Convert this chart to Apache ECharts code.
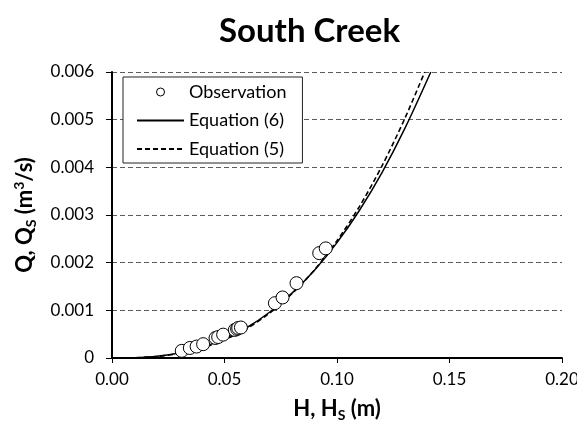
<!DOCTYPE html>
<html>
<head>
<meta charset="utf-8">
<script src="https://cdn.jsdelivr.net/npm/echarts@6/dist/echarts.min.js"></script>
<style>
    html, body { margin: 0; padding: 0; background: #fff; }
    #canvas { width: 577px; height: 426px; }
</style>
</head>
<body>
<div id="canvas"></div>
<script>
// observed stage / discharge
var obsH = [0.031, 0.0346, 0.0376, 0.0405, 0.046, 0.0472, 0.0494, 0.0546, 0.0556, 0.0561, 0.0573, 0.0724, 0.0758, 0.082, 0.0921, 0.095];
var obsQ = [0.00015, 0.00021, 0.00024, 0.00029, 0.00042, 0.00044, 0.00049, 0.00059, 0.00061, 0.00063, 0.00064, 0.00115, 0.00127, 0.00157, 0.0022, 0.0023];

// Equation (6), solid
var eq6H = [0, 0.01, 0.02, 0.03, 0.04, 0.05, 0.06, 0.07, 0.08, 0.09, 0.10, 0.11, 0.12, 0.13, 0.1417];
var eq6Q = [0, 0.000006, 0.000037, 0.000106, 0.000224, 0.0004, 0.00064, 0.00096, 0.00136, 0.00184, 0.00242, 0.0031, 0.00389, 0.0048, 0.006];

// Equation (5), dashed
var eq5H = [0, 0.01, 0.02, 0.03, 0.04, 0.05, 0.06, 0.07, 0.08, 0.09, 0.10, 0.11, 0.12, 0.13, 0.139];
var eq5Q = [0, 0.000005, 0.000032, 0.000095, 0.000207, 0.00038, 0.00062, 0.00094, 0.00135, 0.00185, 0.00246, 0.00318, 0.00403, 0.00501, 0.006];

var legendNames = ['Observation', 'Equation (6)', 'Equation (5)'];

function pairs(xs, ys) {
    var out = [];
    for (var i = 0; i < xs.length; i++) {
        out.push([xs[i], ys[i]]);
    }
    return out;
}

var myChart = echarts.init(document.getElementById('canvas'));

// sub / superscripts in the axis titles
var subRich = {
    sub: { fontSize: 14, lineHeight: 12, verticalAlign: 'bottom', fontWeight: 'bold' },
    sup: { fontSize: 14, lineHeight: 12, verticalAlign: 'top', fontWeight: 'bold' }
};

var option = {
    animation: false,
    backgroundColor: '#fff',
    textStyle: { fontFamily: 'Lato', color: '#000' },
    title: {
        text: 'South Creek',
        left: 214,
        top: 10,
        textStyle: { fontFamily: 'Lato', fontSize: 33, fontWeight: 'bold', color: '#000' }
    },
    legend: {
        orient: 'vertical',
        left: 123,
        top: 77,
        data: [
            { name: legendNames[0], itemStyle: { color: '#fff', borderColor: '#000', borderWidth: 1 } },
            { name: legendNames[1], itemStyle: { opacity: 0 } },
            { name: legendNames[2], itemStyle: { opacity: 0 } }
        ],
        padding: [6, 16, 5, 13],
        itemWidth: 47,
        itemHeight: 8,
        itemGap: 10.5,
        borderColor: '#222',
        borderWidth: 1,
        borderRadius: 0,
        backgroundColor: '#fff',
        textStyle: { fontFamily: 'Lato', fontSize: 18, lineHeight: 18, color: '#000' }
    },
    grid: {
        left: 112,
        right: 15,
        top: 72,
        bottom: 68,
        containLabel: false,
        outerBoundsMode: 'none'
    },
    xAxis: {
        type: 'value',
        min: 0,
        max: 0.2,
        interval: 0.05,
        name: 'H, H{sub|S} (m)',
        nameLocation: 'middle',
        nameGap: 38,
        nameTextStyle: { fontFamily: 'Lato', fontSize: 22, fontWeight: 'bold', lineHeight: 26, color: '#000', rich: subRich },
        axisLine: { lineStyle: { color: '#000', width: 2 } },
        axisTick: { show: true, inside: false, length: 5, lineStyle: { color: '#000', width: 1 } },
        axisLabel: {
            fontFamily: 'Lato', fontSize: 17, color: '#000', margin: 13,
            formatter: function (v) { return v.toFixed(2); }
        },
        splitLine: { show: false }
    },
    yAxis: {
        type: 'value',
        min: 0,
        max: 0.006,
        interval: 0.001,
        name: 'Q, Q{sub|S} (m{sup|3}/s)',
        nameLocation: 'middle',
        nameRotate: 90,
        nameGap: 74,
        nameTextStyle: { fontFamily: 'Lato', fontSize: 22, fontWeight: 'bold', lineHeight: 26, color: '#000', rich: subRich },
        axisLine: { show: true, lineStyle: { color: '#000', width: 2 } },
        axisTick: { show: true, inside: false, length: 6, lineStyle: { color: '#000', width: 1 } },
        axisLabel: {
            fontFamily: 'Lato', fontSize: 17, color: '#000', margin: 18,
            formatter: function (v) { return v === 0 ? '0' : v.toFixed(3); }
        },
        splitLine: { show: true, lineStyle: { color: '#5a5a5a', width: 1, type: [5, 3] } }
    },
    series: [{
        name: 'Equation (6)',
        type: 'line',
        data: pairs(eq6H, eq6Q),
        smooth: 0.3,
        symbol: 'none',
        z: 2,
        itemStyle: { color: '#000' },
        lineStyle: { color: '#000', width: 1.5, type: 'solid' }
    }, {
        name: 'Equation (5)',
        type: 'line',
        data: pairs(eq5H, eq5Q),
        smooth: 0.3,
        symbol: 'none',
        z: 2,
        itemStyle: { color: '#000' },
        lineStyle: { color: '#000', width: 1.6, type: [5, 3] }
    }, {
        name: 'Observation',
        type: 'scatter',
        data: pairs(obsH, obsQ),
        symbol: 'circle',
        symbolSize: 13,
        z: 3,
        itemStyle: { color: '#fff', borderColor: '#000', borderWidth: 1, opacity: 1 }
    }]
};

myChart.setOption(option);
</script>
</body>
</html>
